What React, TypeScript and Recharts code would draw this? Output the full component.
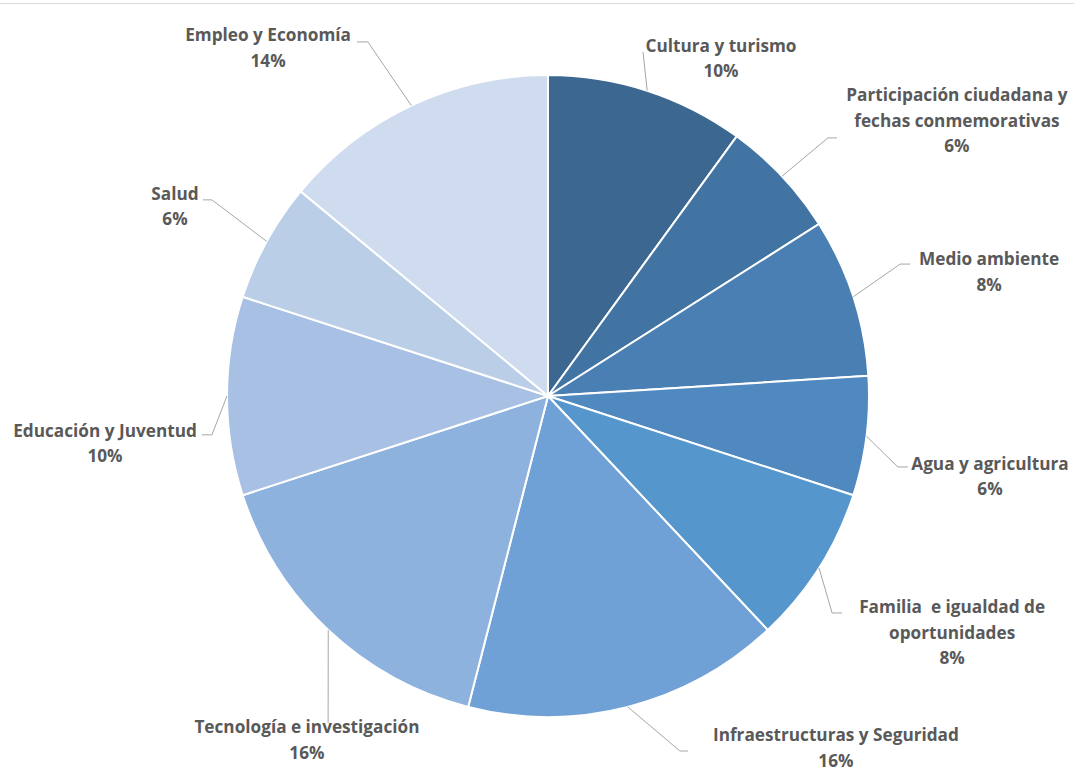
import { PieChart, Pie, Cell } from 'recharts';

const categories = [
  'Cultura y turismo',
  'Participación ciudadana y\nfechas conmemorativas',
  'Medio ambiente',
  'Agua y agricultura',
  'Familia  e igualdad de\noportunidades',
  'Infraestructuras y Seguridad',
  'Tecnología e investigación',
  'Educación y Juventud',
  'Salud',
  'Empleo y Economía',
];

const shares = [10, 6, 8, 6, 8, 16, 16, 10, 6, 14];

const colors = [
  '#3B6790',
  '#4274A3',
  '#4A7FB3',
  '#4F89C0',
  '#5596CD',
  '#6FA1D6',
  '#8EB2DE',
  '#A7C0E3',
  '#BACEE8',
  '#CFDBEE',
];

// label placement, in units of the pie radius from the centre:
// t = first text line, e = leader end, tail = short horizontal stub (px)
const labelLayout = [
  { tx: 0.539, ty: -1.093, ex: 0.296, ey: -1.072, tail: 0 },
  { tx: 1.274, ty: -0.938, ex: 0.872, ey: -0.804, tail: 9 },
  { tx: 1.374, ty: -0.427, ex: 1.097, ey: -0.411, tail: 10 },
  { tx: 1.377, ty: 0.209, ex: 1.09, ey: 0.221, tail: 10 },
  { tx: 1.259, ty: 0.657, ex: 0.885, ey: 0.676, tail: 10 },
  { tx: 0.897, ty: 1.055, ex: 0.411, ey: 1.106, tail: 8 },
  { tx: -0.751, ty: 1.031, ex: -0.685, ey: 1.019, tail: 0 },
  { tx: -1.38, ty: 0.106, ex: -1.047, ey: 0.121, tail: -10 },
  { tx: -1.162, ty: -0.632, ex: -1.047, ey: -0.611, tail: -9 },
  { tx: -0.872, ty: -1.125, ex: -0.561, ey: -1.103, tail: -11 },
];

const data = categories.map((name, i) => ({ name, value: shares[i] }));

const RAD = Math.PI / 180;

function renderLabel(props: any) {
  const { cx, cy, midAngle, outerRadius, index, percent, name } = props;
  const lay = labelLayout[index];
  const sx = cx + outerRadius * Math.cos(-midAngle * RAD);
  const sy = cy + outerRadius * Math.sin(-midAngle * RAD);
  const ex = cx + lay.ex * outerRadius;
  const ey = cy + lay.ey * outerRadius;
  const tx = cx + lay.tx * outerRadius;
  const ty = cy + lay.ty * outerRadius;
  const lines = [...String(name).split('\n'), `${Math.round(percent * 100)}%`];
  const pts = lay.tail ? `${sx},${sy} ${ex},${ey} ${ex + lay.tail},${ey}` : `${sx},${sy} ${ex},${ey}`;
  return (
    <g key={`lbl-${index}`}>
      <polyline points={pts} fill="none" stroke="#A6A6A6" strokeWidth={1} />
      {lines.map((l, k) => (
        <text
          key={k}
          x={tx}
          y={ty + k * 25.5}
          textAnchor="middle"
          dominantBaseline="central"
          fill="#595959"
          fontFamily="'Open Sans', Lato, sans-serif"
          fontWeight={700}
          fontSize={17.2}
          style={{ whiteSpace: 'pre' }}
        >
          {l}
        </text>
      ))}
    </g>
  );
}

export default function App() {
  return (
    <div
      style={{
        position: 'absolute',
        left: 0,
        top: 0,
        width: 1074,
        height: 771,
        background: '#fff',
      }}
    >
      <div
        style={{
          position: 'absolute',
          left: 0,
          top: 3,
          width: 1074,
          borderTop: '1px solid #D9D9D9',
        }}
      />
      <PieChart width={1074} height={771} margin={{ top: 0, right: 0, bottom: 0, left: 0 }}>
        <Pie
          data={data}
          dataKey="value"
          nameKey="name"
          cx={548}
          cy={396}
          outerRadius={321}
          startAngle={90}
          endAngle={-270}
          stroke="#FFFFFF"
          strokeWidth={2}
          label={renderLabel}
          labelLine={false}
          isAnimationActive={false}
        >
          {data.map((d, i) => (
            <Cell key={d.name} fill={colors[i]} />
          ))}
        </Pie>
      </PieChart>
    </div>
  );
}
